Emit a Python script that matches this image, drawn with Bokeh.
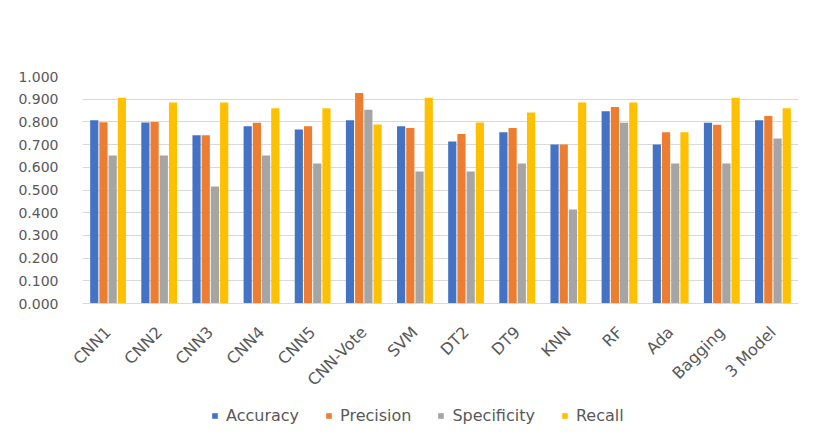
import math
from bokeh.plotting import figure
from bokeh.layouts import column
from bokeh.models import ColumnDataSource, FactorRange, Range1d, Legend, LegendItem, SingleIntervalTicker, NumeralTickFormatter
from bokeh.transform import dodge
from bokeh.embed import file_html
from bokeh.resources import INLINE

models = ["CNN1", "CNN2", "CNN3", "CNN4", "CNN5", "CNN-Vote", "SVM", "DT2", "DT9",
          "KNN", "RF", "Ada", "Bagging", "3 Model"]
accuracy = [0.807, 0.797, 0.741, 0.781, 0.767, 0.807, 0.781, 0.714, 0.754, 0.700, 0.847, 0.700, 0.796, 0.807]
precision = [0.798, 0.800, 0.741, 0.796, 0.781, 0.927, 0.773, 0.747, 0.773, 0.700, 0.866, 0.754, 0.787, 0.826]
specificity = [0.652, 0.652, 0.515, 0.652, 0.617, 0.853, 0.582, 0.582, 0.617, 0.414, 0.796, 0.617, 0.617, 0.727]
recall = [0.906, 0.886, 0.886, 0.860, 0.860, 0.789, 0.906, 0.797, 0.841, 0.886, 0.886, 0.754, 0.906, 0.860]

series = ["Accuracy", "Precision", "Specificity", "Recall"]
colors = ["#4472C4", "#ED7D31", "#A5A5A5", "#FFC000"]

source = ColumnDataSource(dict(model=models, Accuracy=accuracy, Precision=precision,
                               Specificity=specificity, Recall=recall))

W = 819
H_MAIN = 399
H_LEG = 40
BL, BR = 82, 21
p = figure(width=W, height=H_MAIN, x_range=FactorRange(*models, range_padding=0),
           y_range=Range1d(0, 1.0), output_backend="svg", toolbar_location=None,
           min_border_left=BL, min_border_right=BR, min_border_top=76,
           min_border_bottom=H_MAIN - 303)

p.outline_line_color = None
p.background_fill_color = "white"
p.border_fill_color = "white"

offsets = [-0.27, -0.09, 0.09, 0.27]
for s, c, off in zip(series, colors, offsets):
    p.vbar(x=dodge("model", off, range=p.x_range), top=s, width=0.16, source=source,
           fill_color=c, line_color=None)

font = "DejaVu Sans"
txt = "#595959"

p.yaxis.ticker = SingleIntervalTicker(interval=0.1)
p.yaxis.formatter = NumeralTickFormatter(format="0.000")
p.yaxis.axis_line_color = None
p.yaxis.major_tick_line_color = None
p.yaxis.minor_tick_line_color = None
p.yaxis.major_label_standoff = 18
p.yaxis.major_label_text_font = font
p.yaxis.major_label_text_font_size = "14px"
p.yaxis.major_label_text_color = txt

p.xaxis.axis_line_color = "#D9D9D9"
p.xaxis.major_tick_line_color = None
p.xaxis.minor_tick_line_color = None
p.xaxis.major_label_orientation = math.pi / 4
p.xaxis.major_label_standoff = 20
p.xaxis.major_label_text_font = font
p.xaxis.major_label_text_font_size = "16px"
p.xaxis.major_label_text_color = txt

p.xgrid.grid_line_color = None
p.ygrid.grid_line_color = "#D9D9D9"
p.ygrid.ticker = SingleIntervalTicker(interval=0.1)

# legend strip below the chart
lf = figure(width=W, height=H_LEG, x_range=Range1d(0, 1), y_range=Range1d(0, 1),
            output_backend="svg", toolbar_location=None,
            min_border_left=BL, min_border_right=BR, min_border_top=0, min_border_bottom=8)
lf.axis.visible = False
lf.grid.visible = False
lf.outline_line_color = None
lf.border_fill_color = "white"
items = []
for s, c in zip(series, colors):
    src = ColumnDataSource(dict(x=[0.5], top=[0.0]))
    r = lf.vbar(x="x", top="top", bottom=0.0, width=0.0, source=src, fill_color=c, line_color=None)
    items.append(LegendItem(label=s, renderers=[r]))

legend = Legend(items=items, orientation="horizontal", location=(129, 6))
legend.label_text_font = font
legend.label_text_font_size = "16px"
legend.label_text_color = txt
legend.glyph_width = 7
legend.glyph_height = 7
legend.label_standoff = 8
legend.spacing = 26
legend.border_line_color = None
legend.background_fill_alpha = 0
legend.padding = 0
legend.margin = 0
lf.add_layout(legend, "center")

layout = column(p, lf, spacing=0)
open("out.html", "w").write(file_html(layout, INLINE))
